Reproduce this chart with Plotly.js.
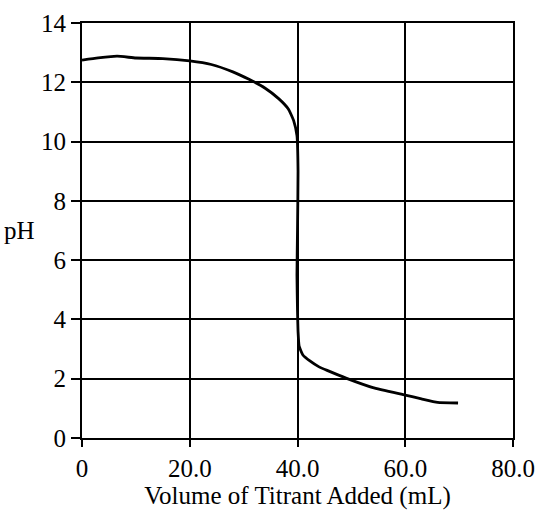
<!DOCTYPE html>
<html>
<head>
<meta charset="utf-8">
<script src="https://cdn.plot.ly/plotly-3.0.1.min.js"></script>
<style>html,body{margin:0;padding:0;background:#fff;}#chart{width:540px;height:512px;}</style>
</head>
<body>
<div id="chart"></div>
<script>
// Titration curve: volume of titrant (mL) vs pH
const volume = [0, 3, 6.5, 10, 15, 20, 24, 28, 31, 34, 36.5, 38.3, 39.3, 39.9, 40.1, 40.0, 39.9, 40.0, 40.1, 40.3, 41, 42.3, 44, 45.5, 49, 54, 60, 63, 66, 69.8];
const pH = [12.75, 12.82, 12.88, 12.82, 12.8, 12.72, 12.6, 12.35, 12.1, 11.8, 11.45, 11.1, 10.7, 10.2, 9, 7, 5.5, 4.3, 3.6, 3.1, 2.8, 2.6, 2.4, 2.28, 2.02, 1.7, 1.45, 1.32, 1.2, 1.18];
const xTickVals = [0, 20, 40, 60, 80];
const xTickText = ["0", "20.0", "40.0", "60.0", "80.0"];
const yTickVals = [0, 2, 4, 6, 8, 10, 12, 14];
const yTickText = ["0", "2", "4", "6", "8", "10", "12", "14"];
const xTitle = "Volume of Titrant Added (mL)";
const yTitle = "pH";

const font = {family: "Liberation Serif, Times New Roman, serif", color: "#000", size: 25};

Plotly.newPlot("chart", [{
  x: volume, y: pH, type: "scatter", mode: "lines",
  line: {color: "#000", width: 2.8, shape: "spline", smoothing: 0.4},
  hoverinfo: "skip"
}], {
  width: 540, height: 512,
  margin: {l: 82, r: 27, t: 23, b: 74},
  paper_bgcolor: "#fff", plot_bgcolor: "#fff",
  showlegend: false,
  font: font,
  xaxis: {
    range: [0, 80], tickvals: xTickVals, ticktext: xTickText,
    showgrid: true, gridcolor: "#000", gridwidth: 2,
    showline: true, linecolor: "#000", linewidth: 2, mirror: true,
    ticks: "outside", ticklen: 7, tickwidth: 2, tickcolor: "#000",
    zeroline: false, tickfont: font,
    title: {text: xTitle, font: font, standoff: 4}
  },
  yaxis: {
    range: [0, 14], tickvals: yTickVals, ticktext: yTickText,
    showgrid: true, gridcolor: "#000", gridwidth: 2,
    showline: true, linecolor: "#000", linewidth: 2, mirror: true,
    ticks: "outside", ticklen: 9, tickwidth: 2, tickcolor: "#000",
    zeroline: false, tickfont: font
  },
  annotations: [{
    text: yTitle, xref: "paper", yref: "paper", x: -0.145, y: 0.5,
    xanchor: "center", yanchor: "middle", showarrow: false, font: font
  }]
}, {staticPlot: true, displayModeBar: false});
</script>
</body>
</html>
